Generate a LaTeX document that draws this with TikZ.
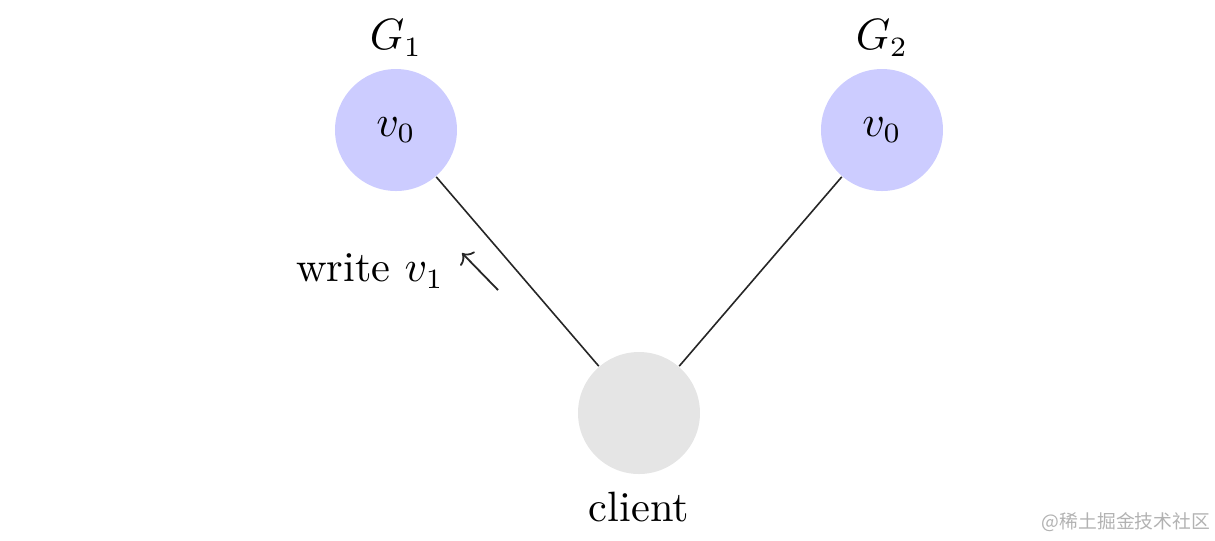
\documentclass[tikz,border=0pt]{standalone}
\usepackage{fontspec}
\usetikzlibrary{arrows.meta}
\newfontfamily\cjk{Noto Sans CJK SC}
\begin{document}
\begin{tikzpicture}[x=0.25pt,y=-0.25pt,
  font=\fontsize{10.6pt}{12.7pt}\selectfont,
  vert/.style={circle,minimum size=30.5pt,inner sep=0pt,draw=none},
  lbl/.style={inner sep=0pt}]
\useasboundingbox (0,0) rectangle (1215,540);
\node[vert,fill=blue!20] (g1) at (396,130) {$v_0$};
\node[vert,fill=blue!20] (g2) at (882,130) {$v_0$};
\node[vert,fill=gray!20] (c) at (639,413) {};
\node[lbl] (l1) at (396,38) {$G_1$};
\node[lbl] (l2) at (882,38) {$G_2$};
\node[lbl] (lc) at (639,507) {client};
\draw[line width=0.4pt,black!85] (g1) -- (c);
\draw[line width=0.4pt,black!85] (g2) -- (c);
\coordinate (a1) at (498,290);
\coordinate (a2) at (462,253);
\draw[-{To[length=2.2pt,width=5pt]},line width=0.45pt,black!85] (a1) -- (a2);
\node[lbl] (w) at (370,271) {write $v_1$};
\node[lbl,text=black!30,font=\cjk\fontsize{4.7pt}{5pt}\selectfont] (wm) at (1126,522) {@稀土掘金技术社区};
\end{tikzpicture}
\end{document}
